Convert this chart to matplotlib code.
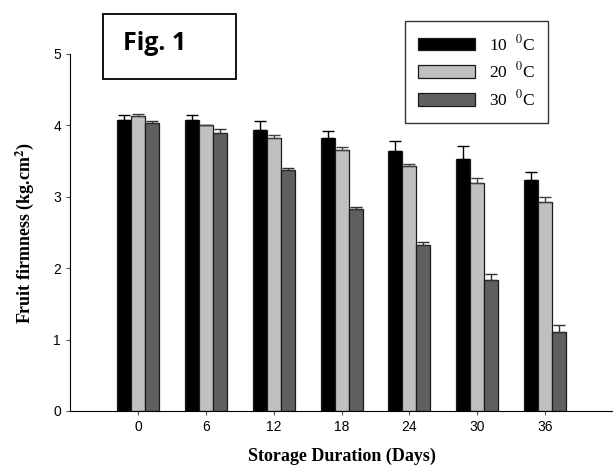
import matplotlib.pyplot as plt
import matplotlib.patches as mpatches
import numpy as np

days = ["0", "6", "12", "18", "24", "30", "36"]
labels = ["10", "20", "30"]

# firmness means and (upper) errors for 10, 20, 30 C
t10 = [4.07, 4.07, 3.93, 3.83, 3.64, 3.53, 3.23]
t20 = [4.13, 4.00, 3.83, 3.66, 3.43, 3.20, 2.93]
t30 = [4.03, 3.90, 3.37, 2.83, 2.33, 1.83, 1.10]
e10 = [0.07, 0.07, 0.13, 0.09, 0.14, 0.18, 0.12]
e20 = [0.03, 0.01, 0.04, 0.04, 0.03, 0.06, 0.07]
e30 = [0.03, 0.05, 0.03, 0.03, 0.03, 0.09, 0.10]

plt.rcParams["mathtext.fontset"] = "stix"

fig = plt.figure(figsize=(6.13, 4.71), dpi=100)
ax = fig.add_axes([0.1142, 0.1274, 0.886, 0.758])

x = np.arange(len(days))
w = 0.206
colors = ["#000000", "#c0c0c0", "#606060"]
ecolors = ["#000000", "#404040", "#303030"]
series = [(t10, e10), (t20, e20), (t30, e30)]
for i, (vals, errs) in enumerate(series):
    ax.bar(x + (i - 1) * w, vals, w, color=colors[i], edgecolor="#1a1a1a",
           linewidth=0.9, label=labels[i] + r"  $^{0}$C",
           yerr=[np.zeros(len(errs)), errs], error_kw=dict(ecolor=ecolors[i], elinewidth=1.0, capsize=4, capthick=1.0))

ax.set_xlim(-1, 7)
ax.set_ylim(0, 5)
ax.set_xticks(x)
ax.set_xticklabels(days)
ax.set_yticks([0, 1, 2, 3, 4, 5])
ax.tick_params(direction="out", length=3, labelsize=10, color="#555555")
for lab in ax.get_xticklabels() + ax.get_yticklabels():
    lab.set_fontfamily("Liberation Sans")
ax.spines["top"].set_visible(False)
ax.spines["right"].set_visible(False)

ax.set_xlabel("Storage Duration (Days)", family="Liberation Serif", fontweight="bold", fontsize=13, labelpad=10)
ax.set_ylabel(r"Fruit firmness (kg.cm$^{\mathbf{2}}$)", family="Liberation Serif", fontweight="bold", fontsize=13, labelpad=12)

leg = ax.legend(loc="upper right", bbox_to_anchor=(548 / 613, 1 - 21 / 471), bbox_transform=fig.transFigure,
                borderaxespad=0, prop={"family": "Liberation Serif", "size": 12.5},
                frameon=True, fancybox=False, edgecolor="black", handlelength=3.3, handleheight=0.75,
                labelspacing=0.45, borderpad=0.75, handletextpad=0.8)
leg.get_frame().set_linewidth(1.0)

fig.patches.append(mpatches.Rectangle((103 / 613, 1 - 79 / 471), 133 / 613, 65 / 471, transform=fig.transFigure,
                                      facecolor="white", edgecolor="black", linewidth=1.3))
fig.text(155 / 613, 1 - 44 / 471, "Fig. 1", fontsize=18, fontweight="bold", family="Open Sans", ha="center", va="center")

fig.savefig("out.png", dpi=100)
